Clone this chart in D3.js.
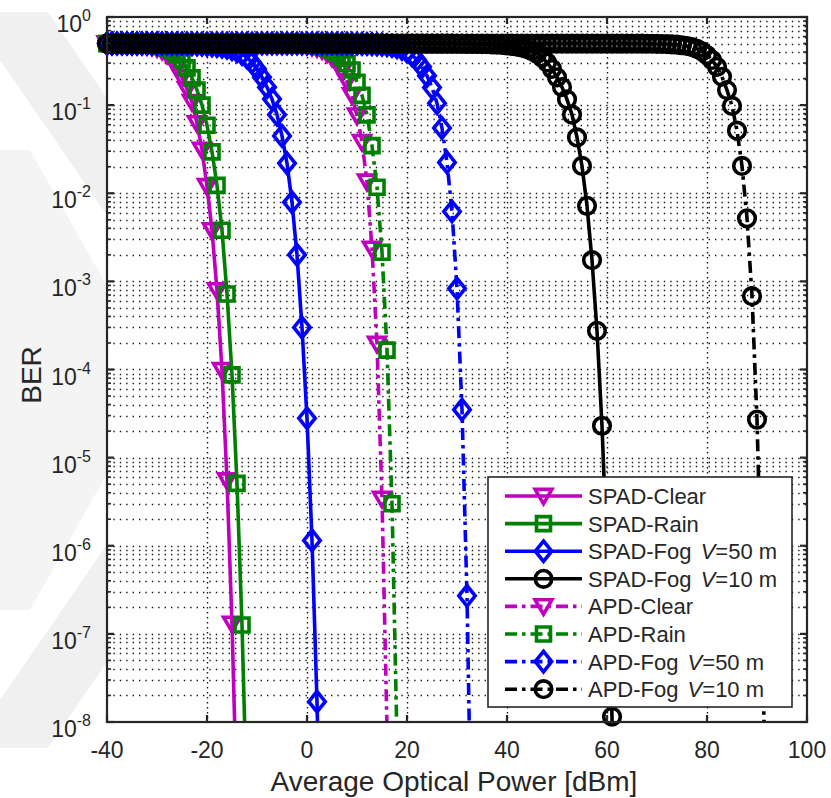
<!DOCTYPE html>
<html>
<head>
<meta charset="utf-8">
<script src="https://cdn.jsdelivr.net/npm/d3@7"></script>
<style>
  body { margin: 0; background: #fff; }
  svg { display: block; }
  text { font-family: "Liberation Sans", Arial, Helvetica, sans-serif; fill: #262626; }
</style>
</head>
<body>
<svg id="chart" width="831" height="798"></svg>
<script>
// Received power grid: every series is sampled from -40 dBm in 1 dB steps
const powerStart = -40;
const powerStep = 1;

// BER per sample (index 0 -> -40 dBm)
const berSpadClear = [
  0.498, 0.498, 0.497, 0.496, 0.494, 0.491, 0.488, 0.482, 0.474, 0.462,
  0.442, 0.415, 0.375, 0.325, 0.265, 0.205, 0.152, 0.108, 0.062, 0.031,
  0.012, 3.8e-3, 7.9e-4, 9.8e-5, 5.5e-6, 1.3e-7, 1.0e-9
];
const berSpadRain = [
  0.499, 0.499, 0.498, 0.498, 0.497, 0.496, 0.494, 0.491, 0.488, 0.482,
  0.474, 0.462, 0.442, 0.415, 0.375, 0.325, 0.265, 0.204, 0.148, 0.100,
  0.059, 0.0295, 0.0123, 3.8e-3, 7.2e-4, 8.7e-5, 5.1e-6, 1.26e-7, 1.0e-9
];
const berSpadFog50 = [
  0.5, 0.5, 0.5, 0.5, 0.5, 0.499, 0.499, 0.499, 0.499, 0.498,
  0.498, 0.497, 0.497, 0.496, 0.495, 0.494, 0.493, 0.491, 0.489, 0.486,
  0.482, 0.477, 0.470, 0.461, 0.448, 0.432, 0.410, 0.382, 0.347, 0.305,
  0.257, 0.207, 0.160, 0.117, 0.078, 0.0447, 0.0219, 7.9e-3, 2.0e-3, 3.0e-4,
  2.8e-5, 1.15e-6, 1.7e-8, 6.0e-11
];
const berSpadFog10 = [
  0.5, 0.5, 0.5, 0.5, 0.5, 0.5, 0.5, 0.5, 0.5, 0.5,
  0.5, 0.5, 0.5, 0.5, 0.5, 0.5, 0.5, 0.5, 0.5, 0.5,
  0.5, 0.5, 0.5, 0.5, 0.5, 0.5, 0.5, 0.5, 0.5, 0.5,
  0.5, 0.5, 0.5, 0.5, 0.5, 0.5, 0.5, 0.5, 0.5, 0.5,
  0.5, 0.5, 0.5, 0.5, 0.5, 0.5, 0.5, 0.5, 0.5, 0.5,
  0.5, 0.5, 0.5, 0.5, 0.5, 0.5, 0.5, 0.5, 0.5, 0.5,
  0.5, 0.5, 0.5, 0.5, 0.499, 0.499, 0.499, 0.499, 0.498, 0.498,
  0.497, 0.497, 0.496, 0.495, 0.494, 0.493, 0.491, 0.489, 0.486, 0.482,
  0.477, 0.470, 0.461, 0.448, 0.432, 0.410, 0.382, 0.347, 0.305, 0.257,
  0.207, 0.160, 0.116, 0.078, 0.043, 0.0204, 7.2e-3, 1.74e-3, 2.75e-4, 2.3e-5,
  8.0e-7, 1.15e-8, 5.0e-11
];
const berApdClear = [
  0.5, 0.5, 0.5, 0.5, 0.5, 0.5, 0.5, 0.5, 0.5, 0.5,
  0.5, 0.5, 0.5, 0.5, 0.5, 0.5, 0.5, 0.5, 0.5, 0.5,
  0.5, 0.5, 0.5, 0.5, 0.5, 0.5, 0.499, 0.499, 0.499, 0.499,
  0.499, 0.498, 0.498, 0.497, 0.496, 0.495, 0.493, 0.490, 0.487, 0.481,
  0.473, 0.461, 0.444, 0.420, 0.387, 0.345, 0.295, 0.240, 0.185, 0.129,
  0.076, 0.038, 0.0135, 2.34e-3, 1.95e-4, 3.4e-6, 8.5e-9
];
const berApdRain = [
  0.5, 0.5, 0.5, 0.5, 0.5, 0.5, 0.5, 0.5, 0.5, 0.5,
  0.5, 0.5, 0.5, 0.5, 0.5, 0.5, 0.5, 0.5, 0.5, 0.5,
  0.5, 0.5, 0.5, 0.5, 0.5, 0.5, 0.5, 0.5, 0.499, 0.499,
  0.499, 0.499, 0.499, 0.498, 0.498, 0.497, 0.496, 0.495, 0.493, 0.490,
  0.487, 0.481, 0.473, 0.461, 0.444, 0.420, 0.387, 0.345, 0.295, 0.250,
  0.182, 0.129, 0.0776, 0.0347, 0.0117, 2.14e-3, 1.66e-4, 3.0e-6, 6.0e-9
];
const berApdFog50 = [
  0.5, 0.5, 0.5, 0.5, 0.5, 0.5, 0.5, 0.5, 0.5, 0.5,
  0.5, 0.5, 0.5, 0.5, 0.5, 0.5, 0.5, 0.5, 0.5, 0.5,
  0.5, 0.5, 0.5, 0.5, 0.5, 0.5, 0.5, 0.5, 0.5, 0.5,
  0.5, 0.5, 0.5, 0.5, 0.5, 0.5, 0.5, 0.5, 0.5, 0.5,
  0.5, 0.5, 0.499, 0.499, 0.499, 0.499, 0.499, 0.498, 0.498, 0.497,
  0.497, 0.496, 0.494, 0.492, 0.489, 0.485, 0.478, 0.469, 0.455, 0.435,
  0.407, 0.370, 0.325, 0.272, 0.215, 0.158, 0.105, 0.055, 0.0224, 6.2e-3,
  8.3e-4, 3.5e-5, 2.7e-7, 1.6e-10
];
const berApdFog10 = [
  0.5, 0.5, 0.5, 0.5, 0.5, 0.5, 0.5, 0.5, 0.5, 0.5,
  0.5, 0.5, 0.5, 0.5, 0.5, 0.5, 0.5, 0.5, 0.5, 0.5,
  0.5, 0.5, 0.5, 0.5, 0.5, 0.5, 0.5, 0.5, 0.5, 0.5,
  0.5, 0.5, 0.5, 0.5, 0.5, 0.5, 0.5, 0.5, 0.5, 0.5,
  0.5, 0.5, 0.5, 0.5, 0.5, 0.5, 0.5, 0.5, 0.5, 0.5,
  0.5, 0.5, 0.5, 0.5, 0.5, 0.5, 0.5, 0.5, 0.5, 0.5,
  0.5, 0.5, 0.5, 0.5, 0.5, 0.5, 0.5, 0.5, 0.5, 0.5,
  0.5, 0.5, 0.5, 0.5, 0.5, 0.5, 0.5, 0.5, 0.5, 0.5,
  0.5, 0.5, 0.5, 0.5, 0.5, 0.5, 0.5, 0.5, 0.5, 0.5,
  0.5, 0.5, 0.5, 0.5, 0.5, 0.5, 0.5, 0.5, 0.5, 0.5,
  0.5, 0.499, 0.499, 0.499, 0.499, 0.499, 0.498, 0.498, 0.497, 0.497,
  0.496, 0.494, 0.492, 0.489, 0.485, 0.478, 0.469, 0.455, 0.435, 0.407,
  0.370, 0.325, 0.272, 0.210, 0.148, 0.098, 0.0513, 0.0204, 5.2e-3, 6.8e-4,
  2.7e-5, 2.0e-7, 1.0e-10
];

const seriesLabels = [
  "SPAD-Clear", "SPAD-Rain", "SPAD-Fog|50", "SPAD-Fog|10",
  "APD-Clear", "APD-Rain", "APD-Fog|50", "APD-Fog|10"
];
const xTickValues = [-40, -20, 0, 20, 40, 60, 80, 100];
const yTickExponents = [0, -1, -2, -3, -4, -5, -6, -7, -8];

// ---- styling ----
const colors = { magenta: "#BF00BF", green: "#008000", blue: "#0000FF", black: "#000000" };
const seriesStyle = [
  { data: berSpadClear, color: colors.magenta, marker: "tri", dashed: false },
  { data: berSpadRain, color: colors.green, marker: "square", dashed: false },
  { data: berSpadFog50, color: colors.blue, marker: "diamond", dashed: false },
  { data: berSpadFog10, color: colors.black, marker: "circle", dashed: false },
  { data: berApdClear, color: colors.magenta, marker: "tri", dashed: true },
  { data: berApdRain, color: colors.green, marker: "square", dashed: true },
  { data: berApdFog50, color: colors.blue, marker: "diamond", dashed: true },
  { data: berApdFog10, color: colors.black, marker: "circle", dashed: true }
];
const dashPattern = "12,5,3.5,5";
const axisColor = "#262626";
const lineW = 3.6;

const plot = { left: 107, right: 807, top: 17, bottom: 722 };

const svg = d3.select("#chart");

const x = d3.scaleLinear().domain([-40, 100]).range([plot.left, plot.right]);
const y = d3.scaleLog().domain([1e-8, 1]).range([plot.bottom, plot.top]);

// faint background chevron in the page margin
const wm = svg.append("g").attr("fill", "#f0f0f0");
wm.append("path").attr("d", "M0,12 L48,12 L300,380 L48,748 L0,748 L0,700 L220,380 L0,60 Z");
wm.append("path").attr("d", "M0,150 L30,150 L160,380 L30,610 L0,610 Z").attr("fill", "#f4f4f4");

// plot area
svg.append("rect")
  .attr("x", plot.left).attr("y", plot.top)
  .attr("width", plot.right - plot.left).attr("height", plot.bottom - plot.top)
  .attr("fill", "#fff");

// grid
const yMajor = yTickExponents.map(e => Math.pow(10, e));
const yMinor = [];
for (let e = -8; e < 0; e++) for (let m = 2; m <= 9; m++) yMinor.push(m * Math.pow(10, e));

const grid = svg.append("g")
  .attr("stroke", "#1a1a1a").attr("stroke-width", 1.4)
  .attr("stroke-dasharray", "1.4,5").attr("fill", "none");
grid.selectAll("line.hy")
  .data(yMajor.filter(v => v > 1e-8 && v < 1).concat(yMinor))
  .join("line").attr("class", "hy")
  .attr("x1", plot.left).attr("x2", plot.right)
  .attr("y1", d => Math.round(y(d)) + 0.5).attr("y2", d => Math.round(y(d)) + 0.5);
grid.selectAll("line.vx")
  .data(xTickValues.filter(v => v > -40 && v < 100))
  .join("line").attr("class", "vx")
  .attr("stroke-dasharray", "1.4,3.6")
  .attr("y1", plot.top).attr("y2", plot.bottom)
  .attr("x1", d => Math.round(x(d)) + 0.5).attr("x2", d => Math.round(x(d)) + 0.5);

// series
const clipId = "plotClip";
svg.append("clipPath").attr("id", clipId).append("rect")
  .attr("x", plot.left).attr("y", plot.top)
  .attr("width", plot.right - plot.left).attr("height", plot.bottom - plot.top);

function toPoints(arr) {
  return arr.map((b, i) => ({ p: powerStart + i * powerStep, ber: b }));
}

function markerShape(g, type, color) {
  const common = s => s.attr("fill", "none").attr("stroke", color).attr("stroke-width", lineW);
  if (type === "circle") return common(g.append("circle").attr("r", 8.3));
  let d;
  if (type === "tri") d = "M-8.4,-6.6L8.4,-6.6L0,7.8Z";
  else if (type === "square") d = "M-7,-7H7V7H-7Z";
  else d = "M0,-10.2L8.2,0L0,10.2L-8.2,0Z";
  return common(g.append("path").attr("d", d).attr("stroke-linejoin", "miter"));
}

const line = d3.line().x(d => x(d.p)).y(d => y(d.ber));

seriesStyle.forEach(s => {
  const pts = toPoints(s.data);
  const g = svg.append("g");
  g.append("path")
    .attr("d", line(pts))
    .attr("clip-path", `url(#${clipId})`)
    .attr("fill", "none").attr("stroke", s.color).attr("stroke-width", lineW)
    .attr("stroke-linejoin", "round")
    .attr("stroke-dasharray", s.dashed ? dashPattern : null);
  pts.filter(d => d.ber >= 1e-8 && d.ber <= 1 && d.p >= -40 && d.p <= 100)
    .forEach(d => {
      const mg = g.append("g").attr("transform", `translate(${x(d.p)},${y(d.ber)})`);
      markerShape(mg, s.marker, s.color);
    });
});

// axes box + ticks (inside, mirrored)
const axes = svg.append("g").attr("stroke", axisColor).attr("fill", "none");
axes.append("rect")
  .attr("x", plot.left).attr("y", plot.top)
  .attr("width", plot.right - plot.left).attr("height", plot.bottom - plot.top)
  .attr("stroke-width", 2.2);

const majLen = 7, minLen = 4;
xTickValues.forEach(v => {
  const xv = x(v);
  axes.append("line").attr("x1", xv).attr("x2", xv).attr("y1", plot.bottom).attr("y2", plot.bottom - majLen).attr("stroke-width", 2.2);
  axes.append("line").attr("x1", xv).attr("x2", xv).attr("y1", plot.top).attr("y2", plot.top + majLen).attr("stroke-width", 2.2);
});
yMajor.forEach(v => {
  const yv = y(v);
  axes.append("line").attr("x1", plot.left).attr("x2", plot.left + majLen).attr("y1", yv).attr("y2", yv).attr("stroke-width", 2.2);
  axes.append("line").attr("x1", plot.right).attr("x2", plot.right - majLen).attr("y1", yv).attr("y2", yv).attr("stroke-width", 2.2);
});
yMinor.forEach(v => {
  const yv = y(v);
  axes.append("line").attr("x1", plot.left).attr("x2", plot.left + minLen).attr("y1", yv).attr("y2", yv).attr("stroke-width", 1.6);
  axes.append("line").attr("x1", plot.right).attr("x2", plot.right - minLen).attr("y1", yv).attr("y2", yv).attr("stroke-width", 1.6);
});

// tick labels
const labels = svg.append("g");
labels.selectAll("text.xt").data(xTickValues).join("text")
  .attr("class", "xt")
  .attr("x", d => x(d)).attr("y", 758)
  .attr("text-anchor", "middle").attr("font-size", 23)
  .text(d => d);

yTickExponents.forEach(e => {
  const t = labels.append("text")
    .attr("x", 91).attr("y", y(Math.pow(10, e)) + 15)
    .attr("text-anchor", "end").attr("font-size", 23);
  t.append("tspan").text("10");
  t.append("tspan").attr("dy", -11).attr("font-size", 16).text(String(e));
});

// axis titles
labels.append("text")
  .attr("x", 454).attr("y", 791)
  .attr("text-anchor", "middle").attr("font-size", 28)
  .text("Average Optical Power [dBm]");
labels.append("text")
  .attr("transform", "translate(41,375) rotate(-90)")
  .attr("text-anchor", "middle").attr("font-size", 28)
  .text("BER");

// legend
const lg = svg.append("g");
lg.append("rect")
  .attr("x", 488).attr("y", 477).attr("width", 304).attr("height", 230)
  .attr("fill", "#fff").attr("stroke", axisColor).attr("stroke-width", 1.6);
const rowH = 27.6;
seriesStyle.forEach((s, i) => {
  const ry = 496 + i * rowH;
  lg.append("line")
    .attr("x1", 505).attr("x2", 582).attr("y1", ry).attr("y2", ry)
    .attr("stroke", s.color).attr("stroke-width", lineW)
    .attr("stroke-dasharray", s.dashed ? dashPattern : null);
  const mg = lg.append("g").attr("transform", `translate(543.5,${ry})`);
  markerShape(mg, s.marker, s.color);
  const parts = seriesLabels[i].split("|");
  const t = lg.append("text").attr("x", 588).attr("y", ry + 8).attr("font-size", 22);
  if (parts.length === 1) {
    t.text(parts[0]);
  } else {
    t.append("tspan").text(parts[0] + " ");
    t.append("tspan").attr("dx", 3).attr("font-style", "italic").text("V");
    t.append("tspan").text("=" + parts[1] + " m");
  }
});
</script>
</body>
</html>
